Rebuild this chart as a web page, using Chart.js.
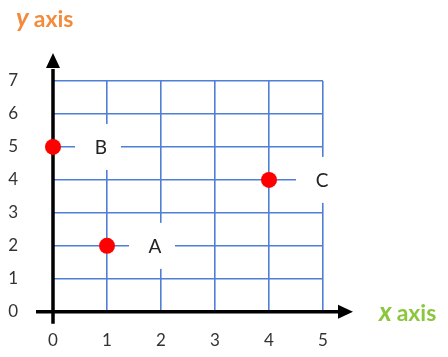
<!DOCTYPE html>
<html><head><meta charset="utf-8">
<script src="https://cdn.jsdelivr.net/npm/chart.js@4/dist/chart.umd.min.js"></script>
<style>html,body{margin:0;padding:0;background:#fff;}#wrap{width:448px;height:357px;}</style>
</head><body><div id="wrap"><canvas id="c" width="448" height="357"></canvas></div>
<script>
const pointNames = ['A', 'B', 'C'];
const pointX = [1, 0, 4];
const pointY = [2, 5, 4];
const xTicks = [0, 1, 2, 3, 4, 5];
const yTicks = [0, 1, 2, 3, 4, 5, 6, 7];
const xTitle = 'axis';
const yTitle = 'axis';

const FONT = 'Lato, "DejaVu Sans", sans-serif';
const GRID = '#4f7fd6';

function drawTitle(ctx, letter, word, x, y, color) {
  ctx.fillStyle = color;
  ctx.font = 'italic bold 26px ' + FONT;
  ctx.fillText(letter, x, y);
  const w = ctx.measureText(letter).width;
  ctx.font = 'bold 23px ' + FONT;
  ctx.fillText(word, x + w + 5, y);
}

const overlay = {
  id: 'overlay',
  beforeDatasetsDraw(chart) {
    const ctx = chart.ctx, xs = chart.scales.x, ys = chart.scales.y;
    const x0 = xs.getPixelForValue(0), y0 = ys.getPixelForValue(0);
    ctx.save();
    ctx.font = '19px ' + FONT;
    ctx.textAlign = 'center'; ctx.textBaseline = 'middle';
    pointNames.forEach((n, i) => {
      const px = xs.getPixelForValue(pointX[i]), py = ys.getPixelForValue(pointY[i]);
      const off = n === 'C' ? 53 : 48;
      ctx.fillStyle = '#fff';
      ctx.fillRect(px + off - 26, py - 23, 46, 46);
      ctx.fillStyle = '#222';
      ctx.fillText(n, px + off, py + 1);
    });
    ctx.strokeStyle = '#000'; ctx.fillStyle = '#000'; ctx.lineWidth = 3.5;
    ctx.beginPath();
    ctx.moveTo(x0, y0 + 12); ctx.lineTo(x0, ys.top - 12);
    ctx.moveTo(x0 - 17, y0); ctx.lineTo(xs.right + 16, y0);
    ctx.stroke();
    ctx.beginPath();
    ctx.moveTo(x0, ys.top - 28); ctx.lineTo(x0 - 7, ys.top - 13); ctx.lineTo(x0 + 7, ys.top - 13); ctx.closePath(); ctx.fill();
    ctx.beginPath();
    ctx.moveTo(xs.right + 30, y0); ctx.lineTo(xs.right + 15, y0 - 7); ctx.lineTo(xs.right + 15, y0 + 7); ctx.closePath(); ctx.fill();
    ctx.textAlign = 'left'; ctx.textBaseline = 'alphabetic';
    drawTitle(ctx, 'y', yTitle, 16, 27, '#f28c3c');
    drawTitle(ctx, 'x', xTitle, 379, y0 + 9, '#8cc63f');
    ctx.restore();
  }
};

new Chart(document.getElementById('c'), {
  type: 'scatter',
  data: {
    datasets: [{
      data: pointX.map((x, i) => ({x: x, y: pointY[i]})),
      backgroundColor: '#ff0000', borderColor: '#ff0000',
      pointRadius: 8, pointHoverRadius: 8, borderWidth: 0, clip: false
    }]
  },
  options: {
    responsive: false, animation: false,
    layout: {padding: {left: 0, right: 125, top: 81, bottom: 0}},
    plugins: {legend: {display: false}, tooltip: {enabled: false}},
    scales: {
      x: {
        type: 'linear', min: 0, max: 5,
        afterBuildTicks: s => { s.ticks = xTicks.map(v => ({value: v})); },
        afterFit: s => { s.height = 42; },
        grid: {color: GRID, lineWidth: 1.6, drawTicks: false},
        border: {display: false},
        ticks: {padding: 19, color: '#333', font: {family: FONT, size: 17}}
      },
      y: {
        type: 'linear', min: 0, max: 7,
        afterBuildTicks: s => { s.ticks = yTicks.map(v => ({value: v})); },
        afterFit: s => { s.width = 53; },
        grid: {color: GRID, lineWidth: 1.6, drawTicks: false},
        border: {display: false},
        ticks: {padding: 35, color: '#333', font: {family: FONT, size: 17}}
      }
    }
  },
  plugins: [overlay]
});
</script>
</body></html>
